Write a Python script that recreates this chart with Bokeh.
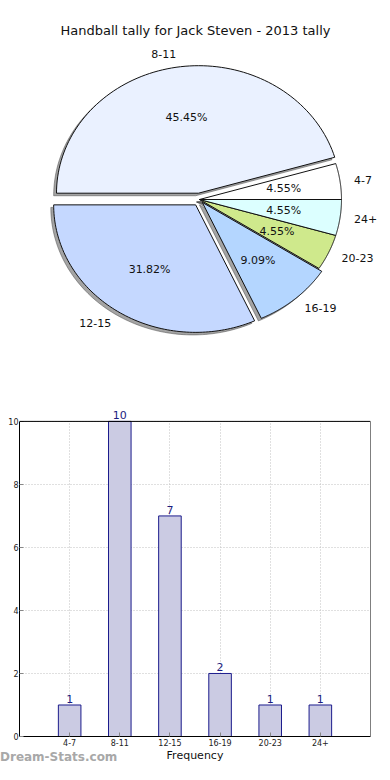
import numpy as np
from bokeh.plotting import figure
from bokeh.models import (Range1d, Label, LabelSet, ColumnDataSource, FixedTicker,
                          Span, Div)
from bokeh.layouts import column
from bokeh.embed import file_html
from bokeh.resources import INLINE
from bokeh.core.properties import value

# ---------------- data ----------------
categories = ["4-7", "8-11", "12-15", "16-19", "20-23", "24+"]
counts = [1, 10, 7, 2, 1, 1]
slice_colors = ["#ffffff", "#eaf1ff", "#c5d8ff", "#b4d6ff", "#cfe98c", "#dcffff"]
explode = [0.0, 0.05, 0.05, 0.03, 0.0, 0.0]
y_ticks = [0, 2, 4, 6, 8, 10]
title_text = "Handball tally for Jack Steven - 2013 tally"
x_label = "Frequency"
watermark = "Dream-Stats.com"

FONT = "DejaVu Sans"
W_PIE = 382
W = 374
PIE_H = 350
BAR_H = 414
CX, CY = 199, 199      # pie centre in canvas px
RX, RY = 142.0, 127.5  # pixels per unit radius (x, y)

# ---------------- pie ----------------
pie = figure(width=W_PIE, height=PIE_H, output_backend="svg", toolbar_location=None,
             x_range=Range1d(-CX / RX, (W_PIE - CX) / RX),
             y_range=Range1d(-(PIE_H - CY) / RY, CY / RY),
             x_axis_type=None, y_axis_type=None, min_border=0)
pie.grid.visible = False
pie.outline_line_color = None

vals = np.array(counts, dtype=float)
frac = vals / vals.sum()
ends = 2 * np.pi * np.cumsum(frac)
starts = np.concatenate([[0.0], ends[:-1]])
mids = (starts + ends) / 2

xs, ys, sxs, sys_ = [], [], [], []
lab_x, lab_y, lab_align, pct_x, pct_y, pct_t = [], [], [], [], [], []
for s, e, m, ex, f in zip(starts, ends, mids, explode, frac):
    ox, oy = ex * np.cos(m), ex * np.sin(m)
    t = np.linspace(s, e, 90)
    px = np.concatenate([[ox], ox + np.cos(t), [ox]])
    py = np.concatenate([[oy], oy + np.sin(t), [oy]])
    xs.append(px.tolist()); ys.append(py.tolist())
    sxs.append((px - 0.02).tolist()); sys_.append((py - 0.02).tolist())
    lab_x.append(ox + 1.1 * np.cos(m)); lab_y.append(oy + 1.1 * np.sin(m))
    lab_align.append("left" if np.cos(m) > 0 else "right")
    pct_x.append(ox + 0.6 * np.cos(m)); pct_y.append(oy + 0.6 * np.sin(m))
    pct_t.append(f"{f * 100:.2f}%")

pie.patches(sxs, sys_, fill_color="#4a4a4a", fill_alpha=0.5,
            line_color="#4a4a4a", line_alpha=0.5, line_width=1)
pie.patches(xs, ys, fill_color=slice_colors, line_color="#111111", line_width=1)

lab_src = ColumnDataSource(dict(x=lab_x, y=lab_y, t=categories, a=lab_align))
pie.text(x="x", y="y", text="t", text_align="a", text_baseline="middle",
         text_font_size="11px", text_font=value(FONT),
         text_color="#111111", source=lab_src)
pct_src = ColumnDataSource(dict(x=pct_x, y=pct_y, t=pct_t))
pie.text(x="x", y="y", text="t", text_align="center", text_baseline="middle",
         text_font_size="11px", text_font=value(FONT),
         text_color="#111111", source=pct_src)

pie.add_layout(Label(x=(pie.x_range.start + pie.x_range.end) / 2, y=(CY - 30) / RY,
                     x_offset=4, text=title_text, text_align="center",
                     text_baseline="middle", text_font_size="13px", text_font=FONT,
                     text_color="#111111"))

# ---------------- bars ----------------
xpos = list(range(1, len(categories) + 1))
ymax = max(counts)
bar = figure(width=W, height=BAR_H, output_backend="svg", toolbar_location=None,
             x_range=Range1d(0, len(categories) + 1), y_range=Range1d(0, ymax * 1.06),
             min_border_left=19, min_border_right=4, min_border_top=52, min_border_bottom=24)
src = ColumnDataSource(dict(x=xpos, top=counts, label=[str(c) for c in counts]))
bar.vbar(x="x", top="top", width=0.45, source=src,
         fill_color="#cbcbe3", line_color="#1c1c8c", line_width=1)
bar.add_layout(LabelSet(x="x", y="top", text="label", source=src,
                        text_align="center", text_baseline="bottom", y_offset=2,
                        text_font_size=value("11px"), text_font=value(FONT),
                        text_color="#1c1c80"))

bar.xaxis.ticker = FixedTicker(ticks=xpos)
bar.xaxis.major_label_overrides = {i: c for i, c in zip(xpos, categories)}
bar.yaxis.ticker = FixedTicker(ticks=y_ticks)
bar.yaxis.bounds = (0, ymax)
bar.xgrid.ticker = FixedTicker(ticks=xpos)
bar.ygrid.ticker = FixedTicker(ticks=y_ticks)
try:
    bar.xgrid.cross_bounds = (0, ymax)
except Exception:
    pass
bar.grid.grid_line_color = "#c0c0c0"
bar.grid.grid_line_dash = "1 2"
bar.grid.grid_line_width = 1

for ax in (bar.xaxis[0], bar.yaxis[0]):
    ax.axis_line_color = "black"
    ax.major_tick_in = 4
    ax.major_tick_out = 0
    ax.major_tick_line_color = "#888888"
    ax.minor_tick_line_color = None
    ax.major_label_text_font_size = "8px"
    ax.major_label_text_font = FONT
    ax.major_label_text_color = "#222222"
    ax.major_label_standoff = 1
bar.xaxis.major_label_standoff = 2
bar.xaxis.axis_label = x_label
bar.xaxis.axis_label_text_font_size = "11px"
bar.xaxis.axis_label_text_font = FONT
bar.xaxis.axis_label_text_font_style = "normal"
bar.xaxis.axis_label_text_color = "#111111"
bar.xaxis.axis_label_standoff = 0
bar.outline_line_color = None
# top and right spines of the frame (the bar range stops at the largest count)
bar.add_layout(Span(location=ymax, dimension="width", line_color="black", line_width=1))
bar.segment(x0=[bar.x_range.end], y0=[0], x1=[bar.x_range.end], y1=[ymax],
            line_color="black", line_width=1)

for p in (pie, bar):
    try:
        p.frame_align = False
    except Exception:
        pass

mark = Div(text=watermark, width=130, height=14, margin=(-14, 0, 0, 0),
           styles={"font-family": FONT, "font-size": "12px", "font-weight": "bold",
                   "color": "#a8a8a8", "line-height": "14px", "white-space": "nowrap"})

layout = column(pie, bar, mark, spacing=0)
open("out.html", "w").write(file_html(layout, INLINE))
